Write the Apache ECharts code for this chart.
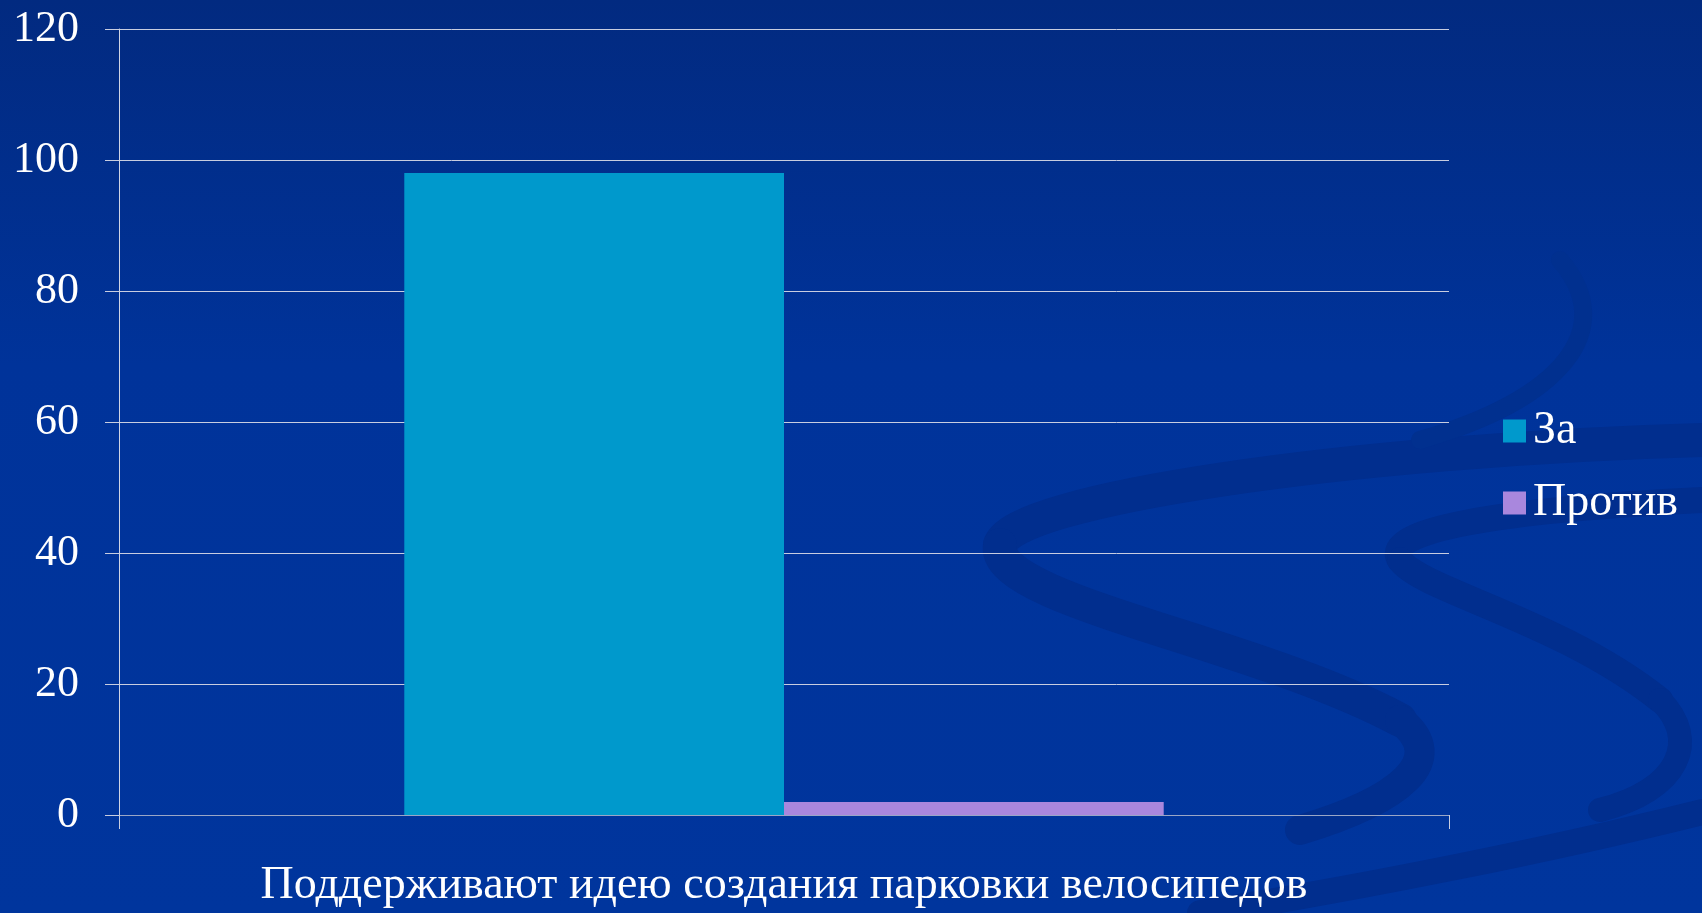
<!DOCTYPE html>
<html><head><meta charset="utf-8">
<script src="https://cdn.jsdelivr.net/npm/echarts@6/dist/echarts.min.js"></script>
<style>html,body{margin:0;padding:0;}#c{width:1702px;height:913px;}</style>
</head><body><div id="c"></div>
<script>
const categories = ['Поддерживают идею создания парковки велосипедов'];
const seriesNames = ['За', 'Против'];
const valuesZa = [98];
const valuesProtiv = [2];
const yTicks = [0, 20, 40, 60, 80, 100, 120];

const font = '"Liberation Serif", "DejaVu Serif", serif';

function swoosh(x1, y1, cpx1, cpy1, cpx2, cpy2, x2, y2, w, c) {
  return {type: 'bezierCurve', silent: true, z: -10,
    shape: {x1: x1, y1: y1, cpx1: cpx1, cpy1: cpy1, cpx2: cpx2, cpy2: cpy2, x2: x2, y2: y2},
    style: {fill: null, stroke: c, lineWidth: w, lineCap: 'round'}};
}
const sc = '#012e8e';
const sc2 = '#01308f';

const chart = echarts.init(document.getElementById('c'));
chart.setOption({
  backgroundColor: {
    type: 'linear', x: 0, y: 0, x2: 0, y2: 1,
    colorStops: [{offset: 0, color: '#022a80'}, {offset: 0.4, color: '#00339a'}, {offset: 1, color: '#00359d'}]
  },
  animation: false,
  graphic: [
    swoosh(1702, 440, 1350, 450, 1010, 500, 1000, 545, 34, sc),
    swoosh(1000, 545, 990, 600, 1250, 640, 1400, 720, 34, sc),
    swoosh(1400, 720, 1450, 760, 1400, 800, 1300, 830, 30, sc),
    swoosh(1702, 500, 1500, 510, 1380, 530, 1400, 560, 26, sc),
    swoosh(1400, 560, 1420, 590, 1560, 620, 1660, 700, 26, sc),
    swoosh(1660, 700, 1700, 740, 1680, 790, 1600, 810, 24, sc),
    swoosh(1702, 812, 1550, 850, 1350, 890, 1200, 913, 26, sc),
    swoosh(1560, 260, 1620, 330, 1560, 400, 1420, 440, 18, sc2)
  ],
  grid: {left: 119, right: 253, top: 29, bottom: 98},
  legend: {
    orient: 'vertical', left: 1498, top: 403,
    itemWidth: 23, itemHeight: 23, itemGap: 26,
    icon: 'rect',
    textStyle: {color: '#ffffff', fontFamily: font, fontSize: 46, padding: [0,0,0,2]},
    data: seriesNames
  },
  xAxis: {
    type: 'category', data: categories,
    axisLine: {show: true, lineStyle: {color: '#9aa6c6', width: 1}},
    axisTick: {show: true, length: 14, lineStyle: {color: '#c8cde0'}},
    axisLabel: {color: '#ffffff', fontFamily: font, fontSize: 46, margin: 48}
  },
  yAxis: {
    type: 'value', min: yTicks[0], max: yTicks[yTicks.length-1], interval: 20,
    axisLine: {show: true, lineStyle: {color: '#d0d4e4', width: 1}},
    axisTick: {show: true, length: 14, lineStyle: {color: '#c8cde0'}},
    axisLabel: {color: '#ffffff', fontFamily: font, fontSize: 44, margin: 40},
    splitLine: {show: true, lineStyle: {color: '#c8cde0', width: 1}}
  },
  series: [
    {name: seriesNames[0], type: 'bar', data: valuesZa, barGap: '0%', barCategoryGap: '42.9%', itemStyle: {color: '#0099cc'}},
    {name: seriesNames[1], type: 'bar', data: valuesProtiv, itemStyle: {color: '#a987dd'}}
  ]
});
</script></body></html>
